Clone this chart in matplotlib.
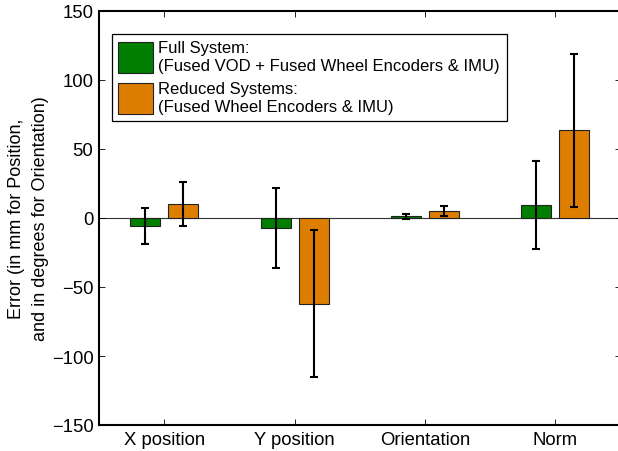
import numpy as np
import matplotlib
matplotlib.use('Agg')
from matplotlib import pyplot as plt

# data
categories = ['X position', 'Y position', 'Orientation', 'Norm']
full_mean = [-5.5, -7.0, 1.4, 9.5]
full_err = [13.0, 29.0, 1.8, 31.9]
reduced_mean = [10.0, -62.0, 5.2, 63.5]
reduced_err = [16.0, 53.0, 3.6, 55.5]
legend_labels = ['Full System:\n(Fused VOD + Fused Wheel Encoders & IMU)',
                 'Reduced Systems:\n(Fused Wheel Encoders & IMU)']
yticks = [-150, -100, -50, 0, 50, 100, 150]

plt.rcParams['font.family'] = ['Liberation Sans', 'DejaVu Sans']

fig = plt.figure(figsize=(6.18, 4.52), dpi=100)
ax = fig.add_axes([99 / 618, 26 / 452, 521.5 / 618, 414 / 452])

x = np.arange(1, len(categories) + 1)
off = 0.146
w = 0.23
green = '#007F00'
orange = '#DE7E00'

b1 = ax.bar(x - off, full_mean, w, color=green, edgecolor='#222222', linewidth=0.8,
            label=legend_labels[0], zorder=2)
b2 = ax.bar(x + off, reduced_mean, w, color=orange, edgecolor='#222222', linewidth=0.8,
            label=legend_labels[1], zorder=2)
ax.errorbar(x - off, full_mean, yerr=full_err, fmt='none', ecolor='black',
            elinewidth=1.5, capsize=2.6, capthick=1.5, zorder=3)
ax.errorbar(x + off, reduced_mean, yerr=reduced_err, fmt='none', ecolor='black',
            elinewidth=1.5, capsize=2.6, capthick=1.5, zorder=3)

# zero line
ax.axhline(0, color='#333333', linewidth=0.8, zorder=1)

ax.set_xlim(0.5, 4.5)
ax.set_ylim(-150, 150)
ax.set_xticks(x)
ax.set_xticklabels(categories, fontsize=13.3)
ax.set_yticks(yticks)
ax.set_yticklabels([str(t).replace('-', '\u2212') for t in yticks], fontsize=13.3)
ax.tick_params(direction='in', top=True, right=True, length=4, width=0.6, pad=4)
for s in ax.spines.values():
    s.set_linewidth(1.5)

ax.set_ylabel('Error (in mm for Position,\nand in degrees for Orientation)',
              fontsize=13, linespacing=1.55)
ax.yaxis.set_label_coords(-0.095, 0.5)

leg = ax.legend(loc='upper left', bbox_to_anchor=(0.0245, 0.945), fontsize=12,
                frameon=True, fancybox=False, edgecolor='black', framealpha=1,
                handlelength=2.1, handleheight=2.48, handletextpad=0.3,
                labelspacing=0.5, borderpad=0.4, borderaxespad=0)
leg.get_frame().set_linewidth(0.9)

fig.savefig('out.png', dpi=100)
